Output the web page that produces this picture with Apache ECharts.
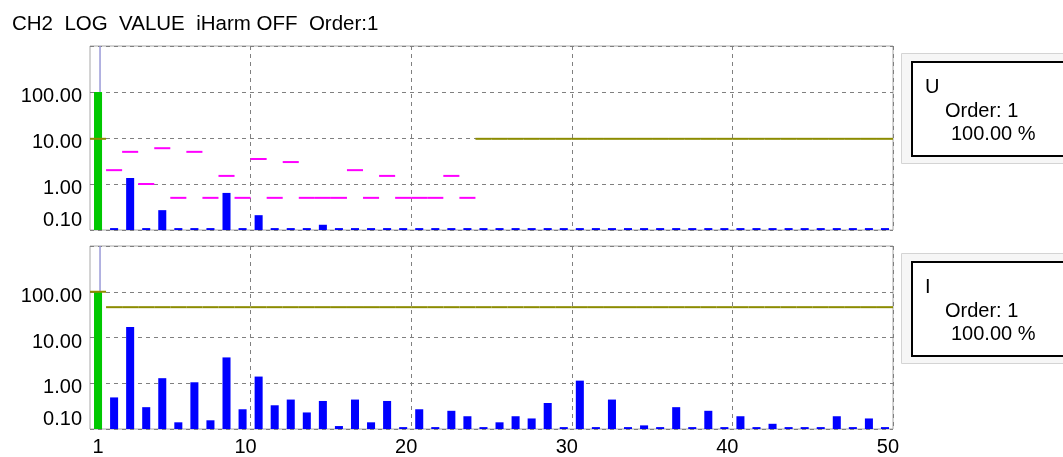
<!DOCTYPE html>
<html>
<head>
<meta charset="utf-8">
<script src="https://cdn.jsdelivr.net/npm/echarts@6/dist/echarts.min.js"></script>
<style>
  html, body { margin: 0; padding: 0; background: #fff; }
  #chart { width: 1063px; height: 457px; }
</style>
</head>
<body>
<div id="chart"></div>
<script>
// harmonic orders on the x axis
const harmonics = ['1','2','3','4','5','6','7','8','9','10',
  '11','12','13','14','15','16','17','18','19','20',
  '21','22','23','24','25','26','27','28','29','30',
  '31','32','33','34','35','36','37','38','39','40',
  '41','42','43','44','45','46','47','48','49','50']

// U channel, % of fundamental
const uValues = [100, 0.11, 1.35, 0.11, 0.27, 0.11, 0.11, 0.11, 0.64, 0.11,
  0.21, 0.11, 0.11, 0.11, 0.13, 0.11, 0.11, 0.11, 0.11, 0.11,
  0.11, 0.11, 0.11, 0.11, 0.11, 0.11, 0.11, 0.11, 0.11, 0.11,
  0.11, 0.11, 0.11, 0.11, 0.11, 0.11, 0.11, 0.11, 0.11, 0.11,
  0.11, 0.11, 0.11, 0.11, 0.11, 0.11, 0.11, 0.11, 0.11, 0.11]
// limit marks (magenta) for U
const uLimits = [null, 2, 5, 1, 6, 0.5, 5, 0.5, 1.5, 0.5,
  3.5, 0.5, 3, 0.5, 0.5, 0.5, 2, 0.5, 1.5, 0.5,
  0.5, 0.5, 1.5, 0.5, null, null, null, null, null, null,
  null, null, null, null, null, null, null, null, null, null,
  null, null, null, null, null, null, null, null, null, null]
// olive level line for U
const uLevel = [9.6, null, null, null, null, null, null, null, null, null,
  null, null, null, null, null, null, null, null, null, null,
  null, null, null, null, 9.6, 9.6, 9.6, 9.6, 9.6, 9.6,
  9.6, 9.6, 9.6, 9.6, 9.6, 9.6, 9.6, 9.6, 9.6, 9.6,
  9.6, 9.6, 9.6, 9.6, 9.6, 9.6, 9.6, 9.6, 9.6, 9.6]

// I channel, % of fundamental
const iValues = [100, 0.49, 16.9, 0.30, 1.29, 0.14, 1.05, 0.155, 3.67, 0.27,
  1.40, 0.33, 0.44, 0.23, 0.41, 0.116, 0.44, 0.14, 0.41, 0.11,
  0.27, 0.11, 0.25, 0.19, 0.11, 0.14, 0.19, 0.17, 0.37, 0.11,
  1.14, 0.11, 0.44, 0.11, 0.12, 0.11, 0.30, 0.11, 0.25, 0.11,
  0.19, 0.11, 0.13, 0.11, 0.11, 0.11, 0.19, 0.11, 0.17, 0.11]
// olive level line for I
const iLevel = [100, 46, 46, 46, 46, 46, 46, 46, 46, 46,
  46, 46, 46, 46, 46, 46, 46, 46, 46, 46,
  46, 46, 46, 46, 46, 46, 46, 46, 46, 46,
  46, 46, 46, 46, 46, 46, 46, 46, 46, 46,
  46, 46, 46, 46, 46, 46, 46, 46, 46, 46]

const yTicks = ['0.10', '1.00', '10.00', '100.00']
const yMin = 0.1
const yMax = 1000

const FONT = "'Liberation Sans', Arial, sans-serif"
const chart = echarts.init(document.getElementById('chart'))

function pairs(vals) {
  return vals.map((v, i) => [i, v]).filter(d => d[1] != null)
}

function bandWidth(api) {
  return api.coord([1, 1])[0] - api.coord([0, 1])[0]
}

function barItem(params, api) {
  const idx = api.value(0)
  const top = api.coord([idx, api.value(1)])
  const base = api.coord([idx, yMin])
  const w = bandWidth(api) * 0.5
  return {
    type: 'rect',
    shape: { x: top[0] - w / 2, y: top[1], width: w, height: base[1] - top[1] },
    style: { fill: idx === 0 ? '#00c800' : '#0000ff' }
  }
}

function dashItem(color) {
  return function(params, api) {
    const idx = api.value(0)
    const p = api.coord([idx, api.value(1)])
    const w = bandWidth(api)
    return {
      type: 'line',
      shape: { x1: p[0] - w / 2, y1: p[1], x2: p[0] + w / 2, y2: p[1] },
      style: { stroke: color, lineWidth: 2 }
    }
  }
}

function cursorItem(params, api) {
  const idx = api.value(0)
  const a = api.coord([idx, yMax])
  const b = api.coord([idx, yMin])
  return {
    type: 'line',
    shape: { x1: a[0] + 2, y1: a[1], x2: b[0] + 2, y2: b[1] },
    style: { stroke: '#9a9ad8', lineWidth: 1.5 }
  }
}

function yLabel(v) {
  const r = Math.round(Math.log10(v))
  if (r >= 3) return ''
  const txt = yTicks[r + 1]
  return r === -1 ? '{lo|' + txt + '}' : '{n|' + txt + '}'
}

function xLabel(v) {
  return v === '1' ? '{a|1}' : '{b|' + v + '}'
}

const gridLine = { show: true, lineStyle: { color: '#808080', type: [4, 4], width: 1 } }

function xAxis(gridIndex, showLabels) {
  return {
    type: 'category',
    gridIndex: gridIndex,
    data: harmonics,
    boundaryGap: true,
    axisLine: { show: false },
    axisTick: { show: false },
    axisLabel: {
      show: showLabels,
      interval: (i) => i === 0 || (i + 1) % 10 === 0,
      color: '#000',
      fontSize: 20,
      fontFamily: FONT,
      margin: 8,
      formatter: xLabel,
      rich: {
        a: { fontSize: 20, fontFamily: FONT, color: '#000' },
        b: { fontSize: 20, fontFamily: FONT, color: '#000', padding: [0, 0, 0, 6] }
      }
    },
    splitLine: Object.assign({}, gridLine, { interval: (i) => i > 0 && i % 10 === 0 })
  }
}

function yAxis(gridIndex) {
  return {
    type: 'log',
    gridIndex: gridIndex,
    logBase: 10,
    min: yMin,
    max: yMax,
    splitNumber: 4,
    axisLine: { show: false },
    axisTick: { show: false },
    axisLabel: {
      color: '#000',
      fontSize: 20,
      fontFamily: FONT,
      margin: 8,
      formatter: yLabel,
      rich: {
        n: { fontSize: 20, fontFamily: FONT, color: '#000', padding: [9, 0, 0, 0] },
        lo: { fontSize: 20, fontFamily: FONT, color: '#000', padding: [0, 0, 20, 0] }
      }
    },
    splitLine: gridLine
  }
}

function seriesFor(idx, values, limits, level) {
  const list = [
    { type: 'custom', xAxisIndex: idx, yAxisIndex: idx, renderItem: cursorItem, data: [[0, 100]], z: 1, silent: true },
    { type: 'custom', xAxisIndex: idx, yAxisIndex: idx, renderItem: barItem, data: pairs(values), z: 2 }
  ]
  if (limits) {
    list.push({ type: 'custom', xAxisIndex: idx, yAxisIndex: idx, renderItem: dashItem('#ff00ff'), data: pairs(limits), z: 3 })
  }
  list.push({ type: 'custom', xAxisIndex: idx, yAxisIndex: idx, renderItem: dashItem('#8c8c00'), data: pairs(level), z: 3 })
  return list
}

function legendBox(top, name) {
  return [
    { type: 'rect', left: 901, top: top, shape: { width: 180, height: 110 },
      style: { fill: '#f6f6f6', stroke: '#d4d4d4', lineWidth: 1 } },
    { type: 'rect', left: 911, top: top + 8, shape: { width: 170, height: 94 },
      style: { fill: '#fff', stroke: '#000', lineWidth: 2 } },
    { type: 'text', left: 925, top: top + 24, style: { text: name, fontSize: 20, fontFamily: FONT, fill: '#000' } },
    { type: 'text', left: 945, top: top + 48, style: { text: 'Order: 1', fontSize: 20, fontFamily: FONT, fill: '#000' } },
    { type: 'text', left: 951, top: top + 71, style: { text: '100.00 %', fontSize: 20, fontFamily: FONT, fill: '#000' } }
  ]
}

const option = {
  animation: false,
  backgroundColor: '#fff',
  grid: [
    { left: 90, top: 46, width: 803, height: 184, show: true, borderColor: '#a8a8a8', borderWidth: 1, backgroundColor: '#fff' },
    { left: 90, top: 246, width: 803, height: 184, show: true, borderColor: '#a8a8a8', borderWidth: 1, backgroundColor: '#fff' }
  ],
  xAxis: [xAxis(0, false), xAxis(1, true)],
  yAxis: [yAxis(0), yAxis(1)],
  series: seriesFor(0, uValues, uLimits, uLevel).concat(seriesFor(1, iValues, null, iLevel)),
  graphic: [{
    type: 'text', left: 12, top: 14,
    style: { text: 'CH2  LOG  VALUE  iHarm OFF  Order:1', fontSize: 20.5, fontFamily: FONT, fill: '#000' }
  }].concat(legendBox(53, 'U'), legendBox(253, 'I'))
}

chart.setOption(option)
</script>
</body>
</html>
